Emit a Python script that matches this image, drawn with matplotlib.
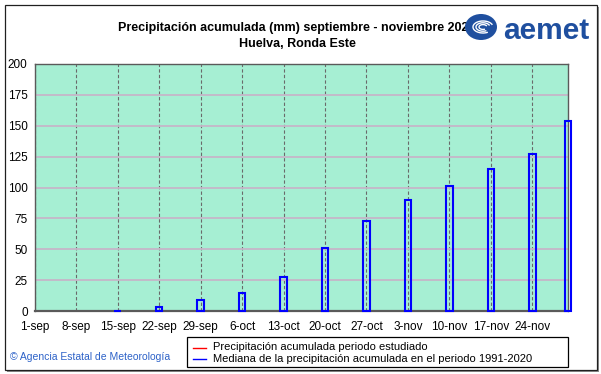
import matplotlib
matplotlib.use('Agg')
import matplotlib.pyplot as plt
from matplotlib.patches import Rectangle, Ellipse, Arc
from matplotlib.lines import Line2D

# ---- data ----
tick_days = [0, 7, 14, 21, 28, 35, 42, 49, 56, 63, 70, 77, 84]
tick_labels = ['1-sep', '8-sep', '15-sep', '22-sep', '29-sep', '6-oct', '13-oct',
               '20-oct', '27-oct', '3-nov', '10-nov', '17-nov', '24-nov']
median_days = [0, 7, 14, 21, 28, 35, 42, 49, 56, 63, 70, 77, 84, 90]
median_values = [0, 0, 0.4, 3.2, 8.7, 14.6, 27.4, 50.9, 73.0, 89.9, 101.5, 114.7, 126.9, 154.0]
y_ticks = [0, 25, 50, 75, 100, 125, 150, 175, 200]
title_line1 = 'Precipitación acumulada (mm) septiembre - noviembre 2024'
title_line2 = 'Huelva, Ronda Este'
legend_labels = ['Precipitación acumulada periodo estudiado',
                 'Mediana de la precipitación acumulada en el periodo 1991-2020']

plt.rcParams['font.family'] = ['Liberation Sans', 'DejaVu Sans']

W, H = 601, 374
fig = plt.figure(figsize=(6.01, 3.74), dpi=100)
fig.patch.set_facecolor('white')

def fx(px):
    return px / W

def fy(py):
    return 1 - py / H

# outer frame with shadow
fig.patches.append(Rectangle((fx(7), fy(372)), fx(599) - fx(7), fy(7) - fy(372),
                             transform=fig.transFigure, facecolor='#8c8c8c',
                             edgecolor='none', zorder=-3))
fig.patches.append(Rectangle((fx(4.5), fy(369.5)), fx(597) - fx(4.5), fy(4.5) - fy(369.5),
                             transform=fig.transFigure, facecolor='white',
                             edgecolor='#202020', lw=0.9, zorder=-2))

ax = fig.add_axes([fx(34.6), fy(311), fx(568) - fx(34.6), fy(64) - fy(311)])
ax.set_facecolor('#a6efd3')
ax.set_xlim(0, 90)
ax.set_ylim(0, 200)
ax.set_xticks(tick_days)
ax.set_xticklabels(tick_labels)
ax.set_yticks(y_ticks)
ax.tick_params(axis='both', length=0, labelsize=8.5)
ax.tick_params(axis='x', pad=7)
ax.tick_params(axis='y', pad=5)
ax.set_axisbelow(True)
ax.yaxis.grid(True, color='#c6b6c8', lw=1.3, ls='-')
ax.xaxis.grid(True, color='#6a6a6a', lw=0.8, ls=(0, (3, 2)))
for s in ['left', 'top', 'right']:
    ax.spines[s].set_color('#5a5a5a')
    ax.spines[s].set_linewidth(1.0)
ax.spines['bottom'].set_color('#5a5a5a')
ax.spines['bottom'].set_linewidth(1.6)

bd = [d for d, v in zip(median_days, median_values) if v > 0]
bv = [v for v in median_values if v > 0]
ax.bar(bd, bv, width=1.15, fill=False, edgecolor='#0000ff', lw=1.5,
       clip_on=False, zorder=3, align='center')

# titles
fig.text(fx(297), fy(28), title_line1, ha='center', va='center',
         fontsize=9, fontweight='bold')
fig.text(fx(297), fy(44), title_line2, ha='center', va='center',
         fontsize=9, fontweight='bold')

# logo
logo_col = '#1f4f9f'
fig.patches.append(Ellipse((fx(481), fy(27)), fx(32), 26 / H,
                           transform=fig.transFigure, facecolor=logo_col,
                           edgecolor='none', zorder=5))
for r in [8, 14, 20]:
    fig.patches.append(Arc((fx(483), fy(27)), r / W, 0.6 * r / H, theta1=20, theta2=300,
                           transform=fig.transFigure, color='white', lw=1.0, zorder=6))
fig.text(fx(503), fy(31), 'aemet', fontsize=21.5, fontweight='bold', color=logo_col,
         ha='left', va='center', zorder=6)

# legend box
fig.patches.append(Rectangle((fx(187), fy(367)), fx(568) - fx(187), fy(337) - fy(367),
                             transform=fig.transFigure, facecolor='white',
                             edgecolor='black', lw=0.9, zorder=4))
for yy, col, lab in [(347.5, 'red', legend_labels[0]), (359, 'blue', legend_labels[1])]:
    fig.lines.append(Line2D([fx(193), fx(206)], [fy(yy), fy(yy)], color=col, lw=1.0,
                            transform=fig.transFigure, zorder=5))
    fig.text(fx(213), fy(yy), lab, ha='left', va='center', fontsize=8, zorder=5)

# copyright
fig.text(fx(10), fy(357), '© Agencia Estatal de Meteorología', color='#2d62c8',
         fontsize=7.5, ha='left', va='center')

fig.savefig('out.png', dpi=100)
